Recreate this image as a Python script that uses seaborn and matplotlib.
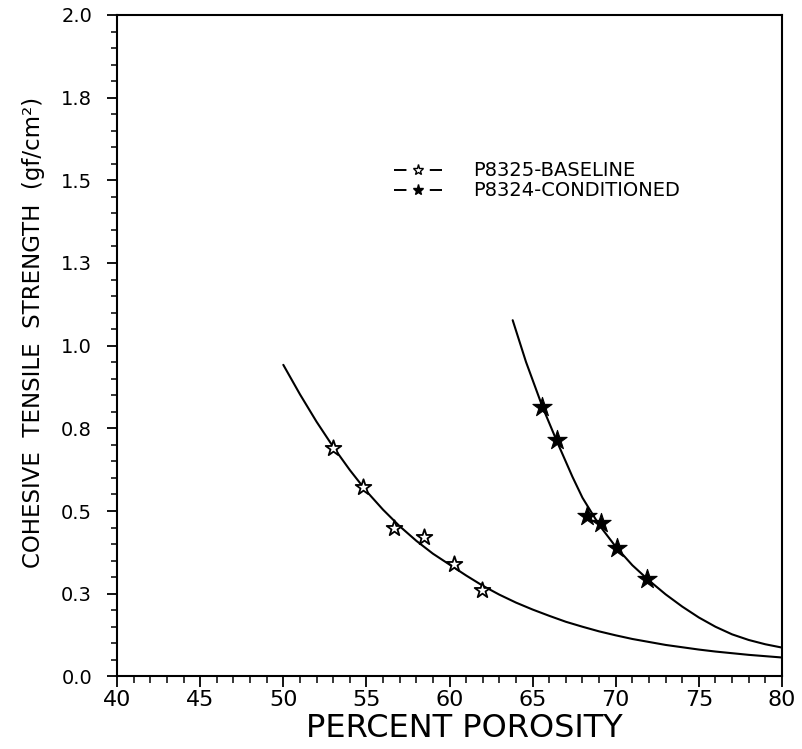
import matplotlib
matplotlib.use('Agg')
import matplotlib.pyplot as plt
from matplotlib.lines import Line2D
from matplotlib.ticker import MultipleLocator, FixedLocator, FixedFormatter
import pandas as pd
import seaborn as sns

# measured points (percent porosity, cohesive tensile strength)
baseline_porosity = [52.99, 54.80, 56.65, 58.45, 60.26, 61.97]
baseline_strength = [0.690, 0.572, 0.448, 0.420, 0.339, 0.261]
conditioned_porosity = [65.58, 66.49, 68.29, 69.10, 70.06, 71.91]
conditioned_strength = [0.814, 0.714, 0.486, 0.465, 0.387, 0.295]

# fitted curves
baseline_fit_x = [50, 51, 52, 53, 54, 55, 56, 57, 58, 59, 60, 61, 62, 63, 64, 65,
                  66, 67, 68, 69, 70, 71, 72, 73, 74, 75, 76, 77, 78, 79, 80]
baseline_fit_y = [0.942, 0.853, 0.770, 0.694, 0.624, 0.560, 0.504, 0.454, 0.410, 0.371,
                  0.338, 0.305, 0.274, 0.247, 0.223, 0.202, 0.183, 0.165, 0.150, 0.136,
                  0.124, 0.113, 0.104, 0.095, 0.088, 0.081, 0.075, 0.070, 0.065, 0.061, 0.057]
conditioned_fit_x = [63.8, 64.6, 65.6, 66.5, 67.4, 68, 69, 70, 71, 72, 73, 74, 75, 76, 77, 78, 79, 80]
conditioned_fit_y = [1.077, 0.951, 0.814, 0.706, 0.603, 0.540, 0.458, 0.392, 0.336, 0.290,
                     0.248, 0.211, 0.178, 0.150, 0.127, 0.110, 0.097, 0.087]

x_ticks = [40, 45, 50, 55, 60, 65, 70, 75, 80]
y_ticks = [0.0, 0.25, 0.5, 0.75, 1.0, 1.25, 1.5, 1.75, 2.0]
y_tick_labels = ['0.0', '0.3', '0.5', '0.8', '1.0', '1.3', '1.5', '1.8', '2.0']

sns.set_style('ticks')
plt.rcParams['font.family'] = ['DejaVu Sans']
plt.rcParams['text.color'] = 'black'
plt.rcParams['axes.labelcolor'] = 'black'
plt.rcParams['xtick.color'] = 'black'
plt.rcParams['ytick.color'] = 'black'

fig = plt.figure(figsize=(8.02, 7.49), dpi=100)
ax = fig.add_axes([0.146, 0.097, 0.829, 0.883])

base_fit = pd.DataFrame({'x': baseline_fit_x, 'y': baseline_fit_y})
cond_fit = pd.DataFrame({'x': conditioned_fit_x, 'y': conditioned_fit_y})
sns.lineplot(data=base_fit, x='x', y='y', ax=ax, color='black', linewidth=1.5,
             estimator=None, sort=False)
sns.lineplot(data=cond_fit, x='x', y='y', ax=ax, color='black', linewidth=1.5,
             estimator=None, sort=False)

sns.scatterplot(x=baseline_porosity, y=baseline_strength, ax=ax, marker='*', s=140,
                color='white', edgecolor='black', linewidth=1.3, zorder=3)
sns.scatterplot(x=conditioned_porosity, y=conditioned_strength, ax=ax, marker='*', s=210,
                color='black', edgecolor='black', linewidth=0.8, zorder=3)

ax.set_xlim(40, 80)
ax.set_ylim(0, 2.0)
ax.xaxis.set_major_locator(FixedLocator(x_ticks))
ax.xaxis.set_minor_locator(MultipleLocator(1))
ax.yaxis.set_major_locator(FixedLocator(y_ticks))
ax.yaxis.set_major_formatter(FixedFormatter(y_tick_labels))
ax.yaxis.set_minor_locator(MultipleLocator(0.05))

ax.tick_params(axis='x', which='major', direction='out', length=8, width=1.3,
               labelsize=16, pad=2)
ax.tick_params(axis='x', which='minor', direction='out', length=5, width=1.1)
ax.tick_params(axis='y', which='major', direction='out', length=7, width=1.3,
               labelsize=14, pad=11)
ax.tick_params(axis='y', which='minor', direction='out', length=4, width=1.1)

for side in ['top', 'right', 'left', 'bottom']:
    ax.spines[side].set_visible(True)
    ax.spines[side].set_linewidth(1.5)
    ax.spines[side].set_color('black')

ax.set_xlabel('PERCENT POROSITY', fontsize=23)
ax.xaxis.set_label_coords(0.523, -0.056)
ax.set_ylabel('COHESIVE  TENSILE  STRENGTH  (gf/cm²)', fontsize=16.5)
ax.yaxis.set_label_coords(-0.108, 0.52)

handles = [
    Line2D([], [], color='black', linewidth=1.4, linestyle=(0, (6.4, 12)), marker='*',
           markersize=8, markerfacecolor='white', markeredgecolor='black'),
    Line2D([], [], color='black', linewidth=1.4, linestyle=(0, (6.4, 12)), marker='*',
           markersize=8, markerfacecolor='black', markeredgecolor='black'),
]
ax.legend(handles, ['P8325-BASELINE', 'P8324-CONDITIONED'], loc='upper left',
          bbox_to_anchor=(0.39, 0.805), frameon=False, fontsize=14,
          handlelength=2.5, handletextpad=1.6, labelspacing=0.05)

fig.savefig('out.png', dpi=100)
